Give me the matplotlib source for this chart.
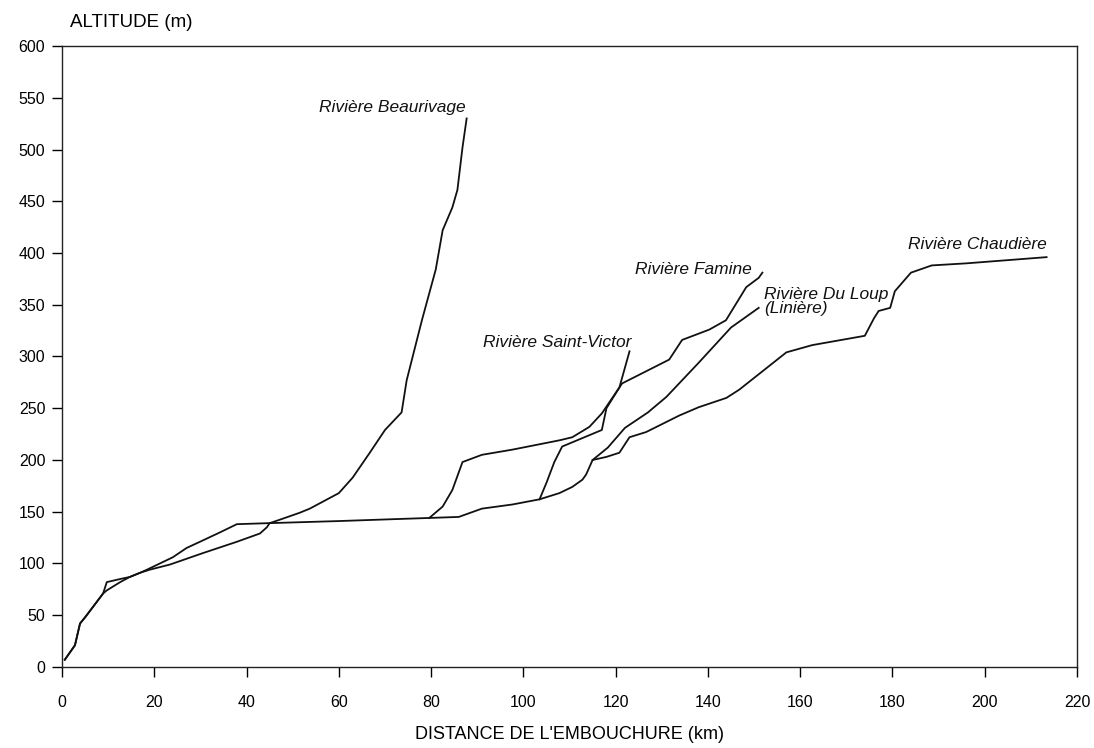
import matplotlib

matplotlib.use("Agg")

import matplotlib.pyplot as plt

plt.rcParams["font.family"] = ["Liberation Sans", "DejaVu Sans"]

# distance from the mouth (km) and altitude (m)
chaudiere_km = [0.6, 2.8, 3.9, 5.0, 6.7, 8.9, 9.7, 12.6, 14.7, 16.9, 18.4, 21.2, 24.0, 27.0,
                29.9, 34.2, 37.9, 45.0, 60.0, 73.0, 79.6, 86.0, 91.0, 97.6, 103.5, 107.8,
                110.6, 112.8, 113.6, 115.0, 118.0, 120.8, 123.0, 126.6, 133.8, 138.0, 144.0,
                146.8, 157.0, 162.6, 174.0, 176.0, 177.0, 179.5, 180.5, 184.0, 188.5, 196.0,
                213.4]
chaudiere_m = [7, 21, 42, 48, 58, 71, 82, 85, 87, 91, 94, 100, 106, 115,
               121, 130, 138, 139, 141, 143, 144, 145, 153, 157, 162, 168,
               174, 181, 186, 200, 203, 207, 222, 227, 243, 251, 260,
               268, 304, 311, 320, 337, 344, 347, 363, 381, 388, 390,
               396]

beaurivage_km = [0.6, 2.8, 3.9, 5.0, 6.7, 8.9, 9.7, 12.6, 14.7, 16.9, 19.0, 23.4, 30.5, 37.9,
                 42.9, 44.4, 45.0, 47.0, 51.5, 53.7, 60.0, 63.0, 66.7, 70.0, 73.6, 74.7,
                 78.0, 81.0, 82.5, 84.6, 85.7, 86.8, 87.7]
beaurivage_m = [7, 21, 42, 48, 58, 71, 74, 82, 87, 91, 94, 99, 110, 121,
                129, 135, 139, 142, 149, 153, 168, 183, 207, 229, 246, 277,
                335, 384, 422, 444, 461, 502, 530]

famine_km = [79.6, 82.5, 84.6, 86.8, 91.0, 97.6, 107.8, 110.6, 114.3, 117.0, 121.4, 131.6,
             134.4, 140.3, 143.9, 148.3, 151.0, 151.8]
famine_m = [144, 155, 171, 198, 205, 210, 219, 222, 232, 245, 274, 297,
            316, 326, 335, 367, 376, 381]

saint_victor_km = [103.5, 105.0, 106.7, 108.4, 117.0, 118.0, 120.8, 123.0]
saint_victor_m = [162, 178, 198, 213, 229, 250, 270, 305]

du_loup_km = [115.0, 118.3, 122.0, 127.0, 131.0, 138.0, 145.0, 151.0]
du_loup_m = [200, 212, 231, 246, 261, 294, 328, 347]

x_ticks = list(range(0, 221, 20))
y_ticks = list(range(0, 601, 50))

fig = plt.figure(figsize=(10.94, 7.48), dpi=100)
ax = fig.add_axes([0.0567, 0.1083, 0.9278, 0.8302])

line_kw = dict(color="#111111", linewidth=1.3)
for xs, ys in [(chaudiere_km, chaudiere_m), (beaurivage_km, beaurivage_m),
               (famine_km, famine_m), (saint_victor_km, saint_victor_m),
               (du_loup_km, du_loup_m)]:
    ax.plot(xs, ys, **line_kw)

label_kw = dict(fontsize=12.5, style="italic", color="#111111")
ax.text(87.5, 541, "Rivière Beaurivage", ha="right", va="center", **label_kw)
ax.text(123.4, 314, "Rivière Saint-Victor", ha="right", va="center", **label_kw)
ax.text(149.4, 384, "Rivière Famine", ha="right", va="center", **label_kw)
ax.text(152.2, 353, "Rivière Du Loup\n(Linière)", ha="left", va="center",
        linespacing=0.9, **label_kw)
ax.text(213.4, 408, "Rivière Chaudière", ha="right", va="center", **label_kw)

ax.set_xlim(0, 220)
ax.set_ylim(0, 600)
ax.set_xticks(x_ticks)
ax.set_yticks(y_ticks)
ax.tick_params(axis="x", direction="out", length=7, width=1.0, pad=13, labelsize=11.5)
ax.tick_params(axis="y", direction="out", length=7, width=1.0, pad=5, labelsize=11.5)
for spine in ax.spines.values():
    spine.set_linewidth(1.0)
    spine.set_color("#222222")

ax.set_xlabel("DISTANCE DE L'EMBOUCHURE (km)", fontsize=13, labelpad=12)
fig.text(0.064, 0.97, "ALTITUDE (m)", ha="left", va="center", fontsize=13.5)

fig.savefig("out.png", dpi=100)
plt.close(fig)
